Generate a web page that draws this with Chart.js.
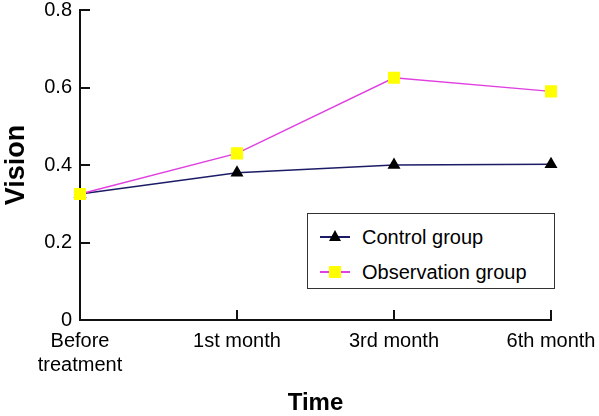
<!DOCTYPE html>
<html>
<head>
<meta charset="utf-8">
<script src="https://cdn.jsdelivr.net/npm/chart.js@4.4.0/dist/chart.umd.min.js"></script>
<style>
  html, body { margin: 0; padding: 0; background: #fff; }
  #wrap { position: relative; width: 599px; height: 416px; }
  canvas { display: block; }
  #legend {
    position: absolute; left: 307px; top: 213px; width: 248px; height: 76px;
    border: 1px solid #333; background: #fff; box-sizing: border-box;
    font-family: "Liberation Sans", Arial, sans-serif; font-size: 20px; color: #000;
  }
  .item { position: absolute; left: 0; height: 24px; width: 100%; }
  .item .ln { position: absolute; left: 12px; width: 30px; top: 11px; height: 1.5px; }
  .item .txt { position: absolute; left: 54px; top: 0; line-height: 24px; white-space: nowrap; }
  .tri { position: absolute; left: 21px; top: 5px; width: 0; height: 0;
    border-left: 6px solid transparent; border-right: 6px solid transparent; border-bottom: 11px solid #000; }
  .sq { position: absolute; left: 21px; top: 6px; width: 12px; height: 12px; background: #ffff00; }
</style>
</head>
<body>
<div id="wrap">
  <canvas id="c" width="599" height="416"></canvas>
  <div id="legend">
    <div class="item" style="top:11px"><div class="ln" style="background:#1c1c66"></div><div class="tri"></div><div class="txt">Control group</div></div>
    <div class="item" style="top:46px"><div class="ln" style="background:#e040e0"></div><div class="sq"></div><div class="txt">Observation group</div></div>
  </div>
</div>
<script>
const categories = [["Before", "treatment"], "1st month", "3rd month", "6th month"];
const controlValues = [0.325, 0.38, 0.40, 0.402];
const observationValues = [0.325, 0.43, 0.625, 0.59];
const yTicks = [0, 0.2, 0.4, 0.6, 0.8];

const FONT = "'Liberation Sans', Arial, sans-serif";

const innerTicks = {
  id: 'innerTicks',
  afterDraw(chart) {
    const ctx = chart.ctx;
    const area = chart.chartArea;
    const x = chart.scales.x, y = chart.scales.y;
    ctx.save();
    ctx.strokeStyle = '#111';
    ctx.lineWidth = 2;
    ctx.beginPath();
    y.ticks.forEach((t, i) => {
      if (t.value === 0) return;
      const py = Math.round(y.getPixelForValue(t.value));
      ctx.moveTo(area.left, py);
      ctx.lineTo(area.left + 10, py);
    });
    x.ticks.forEach((t, i) => {
      if (i === 0) return;
      const px = Math.round(x.getPixelForTick(i));
      ctx.moveTo(px, area.bottom);
      ctx.lineTo(px, area.bottom - 10);
    });
    ctx.stroke();
    ctx.restore();
  }
};

new Chart(document.getElementById('c'), {
  type: 'line',
  data: {
    labels: categories,
    datasets: [
      {
        label: 'Control group',
        data: controlValues,
        borderColor: '#1c1c66',
        backgroundColor: '#000',
        borderWidth: 1.5,
        pointStyle: 'triangle',
        pointRadius: 7.5,
        pointBorderWidth: 0,
        pointBackgroundColor: '#000',
        tension: 0,
        order: 1
      },
      {
        label: 'Observation group',
        data: observationValues,
        borderColor: '#e040e0',
        backgroundColor: '#ffff00',
        borderWidth: 1.5,
        pointStyle: 'rect',
        pointRadius: 8.5,
        pointBorderWidth: 0,
        pointBackgroundColor: '#ffff00',
        tension: 0,
        order: 0
      }
    ]
  },
  options: {
    responsive: false,
    animation: false,
    events: [],
    layout: { padding: 0 },
    plugins: { legend: { display: false }, tooltip: { enabled: false } },
    scales: {
      x: {
        offset: false,
        grid: { display: true, drawOnChartArea: false, drawTicks: false },
        border: { display: true, color: '#111', width: 2 },
        ticks: { color: '#000', font: { family: FONT, size: 20, lineHeight: 1.2 }, padding: 9, maxRotation: 0, autoSkip: false },
        title: { display: true, text: 'Time', color: '#000', font: { family: FONT, size: 24, weight: 'bold' }, padding: { top: 10, bottom: -2 } },
        afterFit(scale) { scale.height = 96; scale.paddingLeft = 0; scale.paddingRight = 48; }
      },
      y: {
        min: 0, max: 0.8,
        afterBuildTicks(scale) { scale.ticks = yTicks.map(v => ({ value: v })); },
        grid: { display: true, drawOnChartArea: false, drawTicks: false },
        border: { display: true, color: '#111', width: 2 },
        ticks: { color: '#000', font: { family: FONT, size: 20 }, padding: 8,
          callback: v => (v === 0 ? '0' : v.toFixed(1)) },
        title: { display: true, text: 'Vision', color: '#000', font: { family: FONT, size: 27, weight: 'bold' }, padding: { top: 0, bottom: 10 } },
        afterFit(scale) { scale.width = 80; scale.paddingTop = 10; scale.paddingBottom = 0; }
      }
    }
  },
  plugins: [innerTicks]
});
</script>
</body>
</html>
